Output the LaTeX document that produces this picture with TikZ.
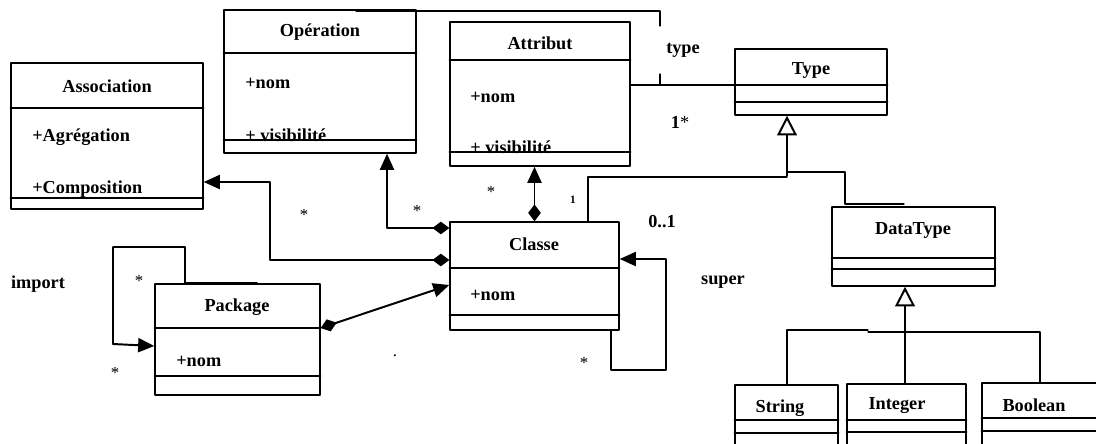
\documentclass[tikz,border=0pt]{standalone}
\usepackage{fontspec}
\setmainfont{Liberation Serif}
\usetikzlibrary{arrows.meta,fit}

\tikzset{
  umlbox/.style={draw,line width=1pt,inner sep=0pt},
  boxline/.style={line width=1pt},
  title/.style={font=\fontsize{13}{15}\selectfont\bfseries},
  attr/.style={font=\fontsize{13}{15}\selectfont\bfseries,anchor=west,inner sep=0pt},
  mult/.style={font=\fontsize{12}{14}\selectfont},
  role/.style={font=\fontsize{13}{15}\selectfont\bfseries},
  link/.style={line width=1.4pt},
  thinlink/.style={line width=0.9pt},
  tofill/.style={-{Triangle[length=11.5pt,width=10pt]}},
  compfill/.style={{Diamond[length=12pt,width=9pt]}-{Triangle[length=11.5pt,width=10pt]}},
  inherit/.style={-{Triangle[open,length=14pt,width=14pt,fill=white]}}
}

\begin{document}
\begin{tikzpicture}[x=0.025cm,y=-0.025cm,line cap=round,line join=round]
  \clip (0,0) rectangle (1096,443);
  % classes
  \node[umlbox,fit={(11,63) (203,209)}] (association) {};
  \node[umlbox,fit={(224,10) (416,153)}] (operation) {};
  \node[umlbox,fit={(450,22) (630,166)}] (attribut) {};
  \node[umlbox,fit={(735,49) (887,115)}] (type) {};
  \node[umlbox,fit={(450,222) (619,330)}] (classe) {};
  \node[umlbox,fit={(155,284) (320,395)}] (package) {};
  \node[umlbox,fit={(832,207) (995,286)}] (datatype) {};
  \node[umlbox,fit={(735,385) (838,460)}] (string) {};
  \node[umlbox,fit={(847,384) (966,460)}] (integer) {};
  \node[umlbox,fit={(982,383) (1120,460)}] (boolean) {};
  \foreach \b/\ya/\yb in {association/108/198,operation/53/140,attribut/60/152,type/85/102,
      classe/268/315,package/328/376,datatype/258/269,string/420/433,integer/420/432,boolean/418/431}{
    \draw[boxline] (\b.west |- 0,\ya) -- (\b.east |- 0,\ya);
    \draw[boxline] (\b.west |- 0,\yb) -- (\b.east |- 0,\yb);
  }
  % titles
  \node[title] (tassociation) at (107,86) {Association};
  \node[title] (toperation) at (320,32) {Opération};
  \node[title] (tattribut) at (540,43) {Attribut};
  \node[title] (ttype) at (811,70) {Type};
  \node[title] (tclasse) at (534,244) {Classe};
  \node[title] (tpackage) at (237,307) {Package};
  \node[title] (tdatatype) at (913,230) {DataType};
  \node[title] (tstring) at (780,408) {String};
  \node[title] (tinteger) at (897,406) {Integer};
  \node[title] (tboolean) at (1034,405) {Boolean};
  % attributes
  \node[attr] (aagreg) at (32,137) {+Agrégation};
  \node[attr] (acompo) at (32,189) {+Composition};
  \node[attr] (onom) at (245,83) {+nom};
  \node[attr] (ovis) at (245,135) {+ visibilité};
  \node[attr] (anom) at (470,97) {+nom};
  \node[attr] (avis) at (470,147) {+ visibilité};
  \node[attr] (cnom) at (470,295) {+nom};
  \node[attr] (pnom) at (176,361) {+nom};
  % compositions from Classe
  \draw[link,compfill] (classe.north) -- (classe.north |- attribut.south);
  \draw[link,compfill] (classe.west |- 0,228) -- (387,228) -- (387,0 |- operation.south);
  \draw[link,compfill] (classe.west |- 0,260) -- (270,260) -- (270,182) -- (association.east |- 0,182);
  \draw[link,compfill] (package.east |- 0,328) -- (classe.west |- 0,285);
  % self loops
  \draw[link,tofill] (classe.south -| 611,0) -- (611,370) -- (666,370) -- (666,259) -- (classe.east |- 0,259);
  \draw[link] (185,283) -- (257,283);
  \draw[link,tofill] (package.north -| 185,0) -- (185,247) -- (113,247) -- (113,344) -- (package.west |- 0,346);
  % attribut -- type
  \draw[thinlink] (attribut.east |- 0,85) -- (type.west |- 0,85);
  \draw[thinlink] (660,85) -- (660,74);
  \draw[thinlink] (660,26) -- (660,11) -- (356,11);
  % generalisations
  \draw[thinlink] (classe.north -| 588,0) -- (588,177) -- (787,177);
  \draw[thinlink] (904,204) -- (845,204) -- (845,172) -- (787,172);
  \draw[link,inherit] (787,176) -- (787,0 |- type.south);
  \draw[link,inherit] (integer.north -| 905,0) -- (905,0 |- datatype.south);
  \draw[thinlink] (string.north -| 787,0) -- (787,330) -- (868,330);
  \draw[thinlink] (868,332) -- (1040,332) -- (boolean.north -| 1040,0);
  % labels
  \node[mult] (m1) at (304,215) {*};
  \node[mult] (m2) at (417,211) {*};
  \node[mult] (m3) at (491,192) {*};
  \node[font=\fontsize{8}{9}\selectfont\bfseries] (m4) at (573,200) {1};
  \node[role] (m5) at (662,222) {0..1};
  \node[role] (lsuper) at (723,282) {super};
  \node[mult] (m6) at (584,363) {*};
  \node[role] (limport) at (38,284) {import};
  \node[mult] (m7) at (139,281) {*};
  \node[mult] (m8) at (115,373) {*};
  \node[role] (m9) at (680,122) {1\mdseries*};
  \node[role] (ltype) at (683,50) {type};
  \node[mult] (ldot) at (395,356) {.};
\end{tikzpicture}
\end{document}
